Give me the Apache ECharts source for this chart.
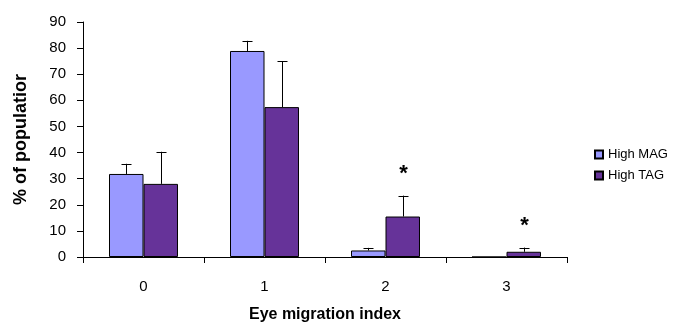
<!DOCTYPE html>
<html><head><meta charset="utf-8">
<script src="https://cdn.jsdelivr.net/npm/echarts@6/dist/echarts.min.js"></script>
<style>html,body{margin:0;padding:0;background:#fff}#c{width:697px;height:328px}</style>
</head><body><div id="c"></div>
<script>
const categories = ['0', '1', '2', '3'];
const magValues = [31.8, 78.9, 2.5, 0];
const magErrors = [3.9, 3.9, 1.0, 0];
const tagValues = [28.0, 57.4, 15.5, 2.0];
const tagErrors = [12.3, 17.6, 8.0, 1.6];
const tagStars = ['', '', '*', '*'];
const yTicks = [0, 90, 10];

const BAR_FRAC = 0.285;
const FONT = '"Liberation Sans", Arial, sans-serif';
const chart = echarts.init(document.getElementById('c'), null, {renderer: 'canvas'});

function errRender(values, errors, side, stars) {
  return function (params, api) {
    const i = api.value(0);
    const v = values[i], e = errors[i];
    const base = api.coord([i, v]);
    const band = api.size([1, 0])[0];
    const bw = band * BAR_FRAC;
    const x = Math.round(base[0] + side * bw / 2) + 0.5;
    const yTop = api.coord([i, v + e])[1];
    const children = [];
    if (e > 0) {
      children.push({type: 'line', shape: {x1: x, y1: base[1], x2: x, y2: yTop}, style: {stroke: '#000', lineWidth: 1}});
      children.push({type: 'line', shape: {x1: x - 5, y1: Math.round(yTop) + 0.5, x2: x + 5, y2: Math.round(yTop) + 0.5}, style: {stroke: '#000', lineWidth: 1}});
    }
    if (stars && stars[i]) {
      children.push({type: 'text', x: x, y: yTop - 22, style: {text: stars[i], fill: '#000', font: 'bold 22px ' + FONT, align: 'center', verticalAlign: 'middle'}});
    }
    return {type: 'group', children: children};
  };
}

chart.setOption({
  animation: false,
  textStyle: {fontFamily: FONT},
  grid: {left: 83, right: 130, top: 22, bottom: 71, containLabel: false, outerBoundsMode: 'none'},
  legend: {
    orient: 'vertical', left: 589, top: 143, icon: 'rect', itemWidth: 8, itemHeight: 8, itemGap: 8,
    textStyle: {fontSize: 13, color: '#000', fontFamily: FONT},
    data: ['High MAG', 'High TAG']
  },
  xAxis: {
    type: 'category', data: categories,
    name: 'Eye migration index', nameLocation: 'middle', nameGap: 50,
    nameTextStyle: {fontSize: 16, fontWeight: 'bold', color: '#000'},
    axisLine: {lineStyle: {color: '#000', width: 1}},
    axisTick: {show: true, length: 6, lineStyle: {color: '#000'}},
    axisLabel: {fontSize: 15, color: '#000', margin: 22}
  },
  yAxis: {
    type: 'value', min: yTicks[0], max: yTicks[1], interval: yTicks[2],
    name: '% of populatior', nameLocation: 'middle', nameGap: 53,
    nameTextStyle: {fontSize: 18, fontWeight: 'bold', color: '#000'},
    splitLine: {show: false},
    axisLine: {show: true, lineStyle: {color: '#000', width: 1}},
    axisTick: {show: true, length: 6, lineStyle: {color: '#000'}},
    axisLabel: {fontSize: 15, color: '#000', margin: 17}
  },
  series: [
    {name: 'High MAG', type: 'bar', data: magValues, barWidth: (BAR_FRAC * 100) + '%', barGap: '0%',
     itemStyle: {color: '#9999FF', borderColor: '#000', borderWidth: 1}},
    {name: 'High TAG', type: 'bar', data: tagValues, barWidth: (BAR_FRAC * 100) + '%', barGap: '0%',
     itemStyle: {color: '#663399', borderColor: '#000', borderWidth: 1}},
    {type: 'custom', data: categories.map((c, i) => [i]), renderItem: errRender(magValues, magErrors, -1, null), z: 5, silent: true},
    {type: 'custom', data: categories.map((c, i) => [i]), renderItem: errRender(tagValues, tagErrors, 1, tagStars), z: 5, silent: true}
  ]
});
</script></body></html>
